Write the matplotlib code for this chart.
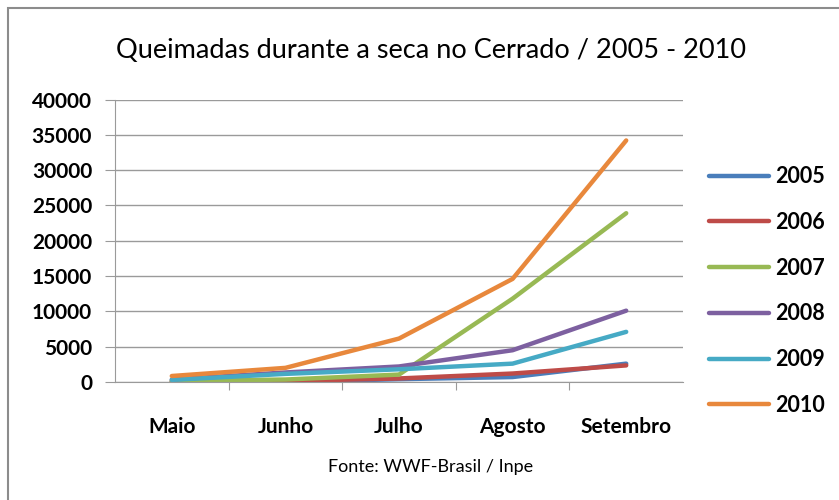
import matplotlib.pyplot as plt
from matplotlib.patches import Rectangle

# Data
meses = ['Maio', 'Junho', 'Julho', 'Agosto', 'Setembro']
anos = ['2005', '2006', '2007', '2008', '2009', '2010']
v2005 = [0, 0, 400, 700, 2600]
v2006 = [100, 150, 500, 1200, 2350]
v2007 = [150, 350, 1050, 11800, 23900]
v2008 = [350, 1350, 2200, 4500, 10100]
v2009 = [300, 1150, 1800, 2600, 7100]
v2010 = [850, 2000, 6150, 14600, 34200]
cores = ['#4A7EBB', '#BE4B48', '#98B954', '#7D60A0', '#46AAC5', '#E8883C']

plt.rcParams['font.family'] = ['Lato', 'DejaVu Sans']

fig = plt.figure(figsize=(8.39, 5), dpi=100)
fig.patch.set_facecolor('white')
# chart frame
fig.patches.append(Rectangle((8 / 839, -0.1), 1.2, 1 - 8 / 500 + 0.1, transform=fig.transFigure,
                             fill=False, edgecolor='#8c8c8c', linewidth=1.5))

ax = fig.add_axes([115 / 839, 1 - 382 / 500, (683 - 115) / 839, (382 - 99.5) / 500])
x = list(range(len(meses)))
series = [v2005, v2006, v2007, v2008, v2009, v2010]
for vals, ano, c in zip(series, anos, cores):
    ax.plot(x, vals, color=c, linewidth=3.2, solid_capstyle='round', label=ano)

ax.set_xlim(-0.5, 4.5)
ax.set_ylim(0, 40000)
ax.set_yticks(range(0, 40001, 5000))
ax.set_yticklabels([str(v) for v in range(0, 40001, 5000)], fontsize=15, fontweight='bold')
ax.yaxis.grid(True, color='#9a9a9a', linewidth=1)
ax.set_axisbelow(True)

ax.set_xticks([i - 0.5 for i in range(1, 5)])
ax.set_xticklabels([])
ax.set_xticks(x, minor=True)
ax.set_xticklabels(meses, minor=True, fontsize=15, fontweight='bold')
ax.tick_params(axis='x', which='minor', length=0, pad=25)
ax.tick_params(axis='x', which='major', length=6, color='#9a9a9a')
ax.tick_params(axis='y', length=7.5, color='#9a9a9a', pad=9)

for s in ['top', 'right']:
    ax.spines[s].set_visible(False)
ax.spines['left'].set_color('#9a9a9a')
ax.spines['bottom'].set_color('#9a9a9a')

leg = ax.legend(loc='upper left', bbox_to_anchor=(1.011, 0.833), frameon=False,
                handlelength=2.8, labelspacing=1.15, handletextpad=0.3,
                prop={'weight': 'bold', 'size': 15.5})

fig.text(431 / 839, 1 - 50 / 500, 'Queimadas durante a seca no Cerrado / 2005 - 2010',
         ha='center', va='center', fontsize=19.5)
fig.text(431 / 839, 1 - 467 / 500, 'Fonte: WWF-Brasil / Inpe', ha='center', va='center', fontsize=13)

fig.savefig('out.png', dpi=100)
